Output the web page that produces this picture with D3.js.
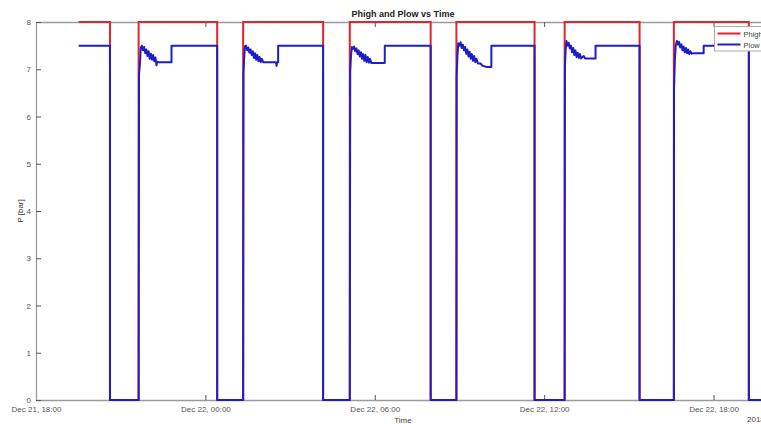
<!DOCTYPE html>
<html>
<head>
<meta charset="utf-8">
<script src="https://cdn.jsdelivr.net/npm/d3@7"></script>
<style>
  body { margin: 0; background: #fff; }
  text { font-family: 'Liberation Sans', Arial, sans-serif; }
</style>
</head>
<body>
<div id="chart"></div>
<script>
// hours after Dec 21 2018, 18:00
const startTime = new Date(2018, 11, 21, 18, 0)
const endHours = 26

const phighHours = [1.51, 2.62, 3.635, 6.418, 7.338, 10.17, 11.115, 13.98, 14.892, 17.66, 18.726, 21.38, 22.595, 25.25, 26]
const phighValues = [8, 0, 8, 0, 8, 0, 8, 0, 8, 0, 8, 0, 8, 0, 0]

// [hours, bar]
const plowPoints = [
  [1.51, 7.5], [2.62, 7.5], [2.62, 0],
  [3.635, 0], [3.65, 6.9], [3.68, 7.1], [3.71, 7.45], [3.75, 7.5], [3.79, 7.4], [3.83, 7.47], [3.87, 7.34],
  [3.91, 7.42], [3.95, 7.28], [3.99, 7.38], [4.03, 7.22], [4.07, 7.33], [4.11, 7.2], [4.15, 7.3], [4.19, 7.17],
  [4.23, 7.25], [4.27, 7.08], [4.29, 7.16], [4.33, 7.15], [4.8, 7.15], [4.8, 7.5], [6.418, 7.5], [6.418, 0],
  [7.338, 0], [7.35, 6.9], [7.37, 7.2], [7.4, 7.48], [7.44, 7.5], [7.48, 7.4], [7.52, 7.46], [7.56, 7.35],
  [7.6, 7.42], [7.64, 7.3], [7.68, 7.38], [7.72, 7.24], [7.76, 7.34], [7.8, 7.2], [7.84, 7.3], [7.88, 7.17],
  [7.92, 7.26], [7.96, 7.15], [8.0, 7.22], [8.05, 7.15], [8.5, 7.15], [8.52, 7.07], [8.54, 7.15], [8.577, 7.15],
  [8.577, 7.5], [10.17, 7.5], [10.17, 0],
  [11.115, 0], [11.13, 6.95], [11.16, 7.3], [11.19, 7.47], [11.23, 7.43], [11.27, 7.48], [11.31, 7.38], [11.35, 7.44],
  [11.39, 7.32], [11.43, 7.4], [11.47, 7.27], [11.51, 7.36], [11.55, 7.22], [11.59, 7.32], [11.63, 7.18], [11.67, 7.3],
  [11.71, 7.15], [11.75, 7.26], [11.79, 7.14], [11.83, 7.22], [11.88, 7.13], [12.354, 7.13], [12.354, 7.5],
  [13.98, 7.5], [13.98, 0],
  [14.892, 0], [14.9, 6.85], [14.93, 7.3], [14.96, 7.55], [15.0, 7.5], [15.04, 7.57], [15.08, 7.45], [15.12, 7.52],
  [15.16, 7.4], [15.2, 7.47], [15.24, 7.33], [15.28, 7.42], [15.32, 7.27], [15.36, 7.37], [15.4, 7.22], [15.44, 7.32],
  [15.48, 7.18], [15.52, 7.28], [15.56, 7.15], [15.6, 7.22], [15.66, 7.12], [15.75, 7.12], [15.8, 7.08], [15.95, 7.05],
  [16.13, 7.05], [16.13, 7.5], [17.66, 7.5], [17.66, 0],
  [18.726, 0], [18.735, 7.05], [18.76, 7.4], [18.79, 7.6], [18.83, 7.5], [18.87, 7.56], [18.91, 7.44], [18.95, 7.5],
  [18.99, 7.36], [19.03, 7.45], [19.07, 7.3], [19.11, 7.4], [19.15, 7.26], [19.19, 7.35], [19.23, 7.24], [19.27, 7.32],
  [19.31, 7.23], [19.4, 7.28], [19.45, 7.23], [19.82, 7.23], [19.82, 7.5], [21.38, 7.5], [21.38, 0],
  [22.595, 0], [22.6, 6.55], [22.63, 7.2], [22.66, 7.5], [22.7, 7.6], [22.74, 7.52], [22.78, 7.58], [22.82, 7.46],
  [22.86, 7.53], [22.9, 7.4], [22.94, 7.48], [22.98, 7.36], [23.02, 7.45], [23.06, 7.34], [23.1, 7.42], [23.14, 7.32],
  [23.18, 7.38], [23.22, 7.33], [23.28, 7.34], [23.65, 7.34], [23.65, 7.5], [25.25, 7.5], [25.25, 0], [26, 0]
]

const yTicks = [0, 1, 2, 3, 4, 5, 6, 7, 8]
const xTickHours = [0, 6, 12, 18, 24]
const seriesNames = ['Phigh', 'Plow']
const seriesColors = ['#e3242b', '#1e1ec4']

const toDate = h => new Date(startTime.getTime() + h * 3600 * 1000)

const margin = { top: 22, right: -9, bottom: 24, left: 36 }
const width = 761 - margin.left - margin.right
const height = 424 - margin.top - margin.bottom

const svgRoot = d3
  .select('#chart')
  .append('svg')
  .attr('width', 761)
  .attr('height', 424)

const svg = svgRoot
  .append('g')
  .attr('transform', 'translate(' + margin.left + ',' + margin.top + ')')

const xPositionScale = d3
  .scaleTime()
  .domain([startTime, toDate(endHours)])
  .range([0, width])

const yPositionScale = d3
  .scaleLinear()
  .domain([0, 8])
  .range([height, 0])

// axes, MATLAB style with inward ticks
const xTickDates = xTickHours.map(toDate)
const fmt = d3.timeFormat('%b %d, %H:%M')

const xAxis = d3
  .axisBottom(xPositionScale)
  .tickValues(xTickDates)
  .tickFormat(fmt)
  .tickSizeInner(-5)
  .tickSizeOuter(0)
  .tickPadding(6)

svg
  .append('g')
  .attr('class', 'axis x-axis')
  .attr('transform', 'translate(0,' + height + ')')
  .call(xAxis)

svg
  .append('g')
  .attr('class', 'axis x-axis-top')
  .call(d3.axisTop(xPositionScale).tickValues(xTickDates).tickFormat('').tickSizeInner(-5).tickSizeOuter(0))

const yAxis = d3
  .axisLeft(yPositionScale)
  .tickValues(yTicks)
  .tickSizeInner(-5)
  .tickSizeOuter(0)
  .tickPadding(5)

svg
  .append('g')
  .attr('class', 'axis y-axis')
  .call(yAxis)

svg
  .append('g')
  .attr('transform', 'translate(' + width + ',0)')
  .call(d3.axisRight(yPositionScale).tickValues(yTicks).tickFormat('').tickSizeInner(-5).tickSizeOuter(0))

svg.selectAll('.domain').attr('stroke', '#9a9a9a').attr('stroke-width', 1.3)
svg.selectAll('.tick line').attr('stroke', '#555')
svg.selectAll('.tick text').attr('fill', '#555').attr('font-size', 8)

// lines
const phighLine = d3
  .line()
  .curve(d3.curveStepAfter)
  .x((d, i) => xPositionScale(toDate(phighHours[i])))
  .y(d => yPositionScale(d))

svg
  .append('path')
  .datum(phighValues)
  .attr('fill', 'none')
  .attr('stroke', seriesColors[0])
  .attr('stroke-width', 2)
  .attr('d', phighLine)

const plowLine = d3
  .line()
  .x(d => xPositionScale(toDate(d[0])))
  .y(d => yPositionScale(d[1]))

svg
  .append('path')
  .datum(plowPoints)
  .attr('fill', 'none')
  .attr('stroke', seriesColors[1])
  .attr('stroke-width', 2)
  .attr('stroke-linejoin', 'round')
  .attr('d', plowLine)

// titles
svgRoot
  .append('text')
  .attr('x', 403)
  .attr('y', 17)
  .attr('text-anchor', 'middle')
  .attr('font-size', 9)
  .attr('font-weight', 'bold')
  .attr('fill', '#222')
  .text('Phigh and Plow vs Time')

svgRoot
  .append('text')
  .attr('transform', 'translate(23,211) rotate(-90)')
  .attr('text-anchor', 'middle')
  .attr('font-size', 8)
  .attr('fill', '#333')
  .text('P [bar]')

svgRoot
  .append('text')
  .attr('x', 403)
  .attr('y', 423)
  .attr('text-anchor', 'middle')
  .attr('font-size', 8)
  .attr('fill', '#444')
  .text('Time')

svgRoot
  .append('text')
  .attr('x', 747)
  .attr('y', 422)
  .attr('font-size', 8)
  .attr('fill', '#444')
  .text('2018')

// legend
const legend = svgRoot.append('g').attr('transform', 'translate(714.5,26.5)')

legend
  .append('rect')
  .attr('width', 60)
  .attr('height', 24.5)
  .attr('fill', '#fff')
  .attr('stroke', '#aaa')

seriesNames.forEach((name, i) => {
  legend
    .append('line')
    .attr('x1', 3)
    .attr('x2', 26)
    .attr('y1', 7 + i * 11)
    .attr('y2', 7 + i * 11)
    .attr('stroke', seriesColors[i])
    .attr('stroke-width', 2)
  legend
    .append('text')
    .attr('x', 29)
    .attr('y', 10 + i * 11)
    .attr('font-size', 7.5)
    .attr('fill', '#444')
    .text(name)
})
</script>
</body>
</html>
